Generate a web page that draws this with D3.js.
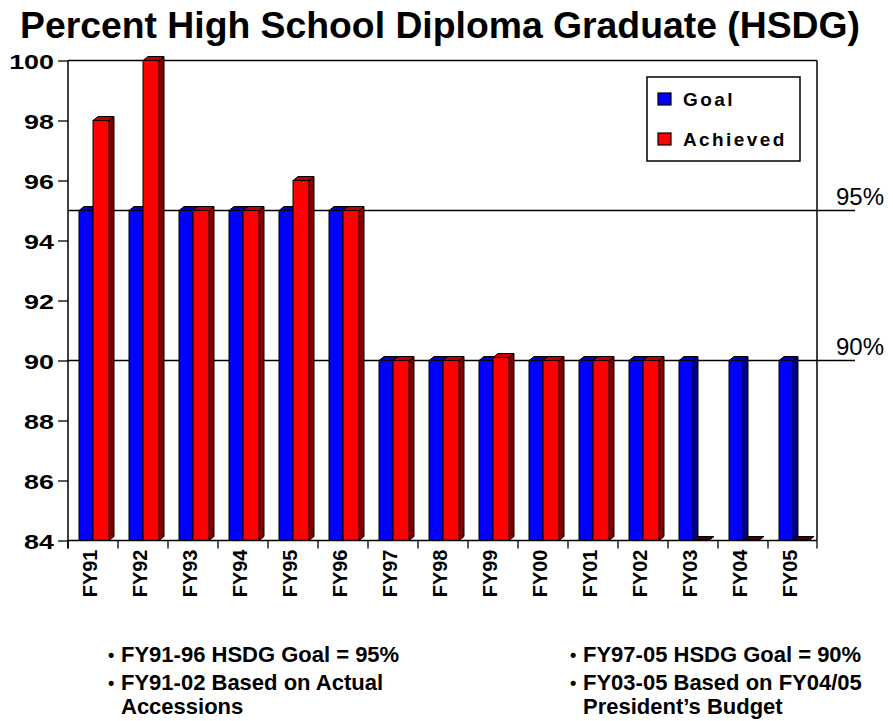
<!DOCTYPE html>
<html>
<head>
<meta charset="utf-8" />
<title>HSDG</title>
<script src="https://cdn.jsdelivr.net/npm/d3@7"></script>
<style>
  body { margin: 0; background: #fff; }
  text { font-family: "Liberation Sans", Arial, sans-serif; }
</style>
</head>
<body>
<svg width="893" height="721"></svg>
<script>
// data
var categories = ["FY91","FY92","FY93","FY94","FY95","FY96","FY97","FY98","FY99","FY00","FY01","FY02","FY03","FY04","FY05"];
var goal     = [95,95,95,95,95,95,90,90,90,90,90,90,90,90,90];
var achieved = [98,100,95,95,96,95,90,90,90.1,90,90,90,null,null,null];
var yTicks = [84,86,88,90,92,94,96,98,100];
var refValues = [95,90];
var refLabels = ["95%","90%"];
var seriesNames = ["Goal","Achieved"];
var notesLeft = ["FY91-96 HSDG Goal = 95%", "FY91-02 Based on Actual", "Accessions"];
var notesRight = ["FY97-05 HSDG Goal = 90%", "FY03-05 Based on FY04/05", "President\u2019s Budget"];

var svg = d3.select("svg");
var pLeft = 68, pRight = 817, pTop = 60.5, pBottom = 540.5;

var x = d3.scaleBand().domain(categories).range([pLeft, pLeft + 750]);
var y = d3.scaleLinear().domain([84,100]).range([pBottom, pTop]);

var colors = {
  Goal:     {front:"#0000ff", top:"#0000c0", side:"#000080"},
  Achieved: {front:"#ff0000", top:"#c00000", side:"#800000"}
};
var dx = 5, dy = 4;

// title
svg.append("text")
  .attr("x", 20).attr("y", 38)
  .attr("font-size", 36).attr("font-weight", "bold")
  .attr("textLength", 840).attr("lengthAdjust", "spacingAndGlyphs")
  .text("Percent High School Diploma Graduate (HSDG)");

// frame top + right
svg.append("line").attr("x1", pLeft).attr("x2", pRight).attr("y1", pTop).attr("y2", pTop)
  .attr("stroke", "#000").attr("stroke-width", 1.5);
svg.append("line").attr("x1", pRight).attr("x2", pRight).attr("y1", pTop).attr("y2", pBottom)
  .attr("stroke", "#000").attr("stroke-width", 1.5);

// reference lines 95 / 90
refValues.forEach(function(v, i){
  svg.append("line").attr("x1", pLeft).attr("x2", 855)
    .attr("y1", y(v)).attr("y2", y(v))
    .attr("stroke", "#000").attr("stroke-width", 1.3);
  svg.append("text").attr("x", 836).attr("y", y(v) - 6)
    .attr("font-size", 24).text(refLabels[i]);
});

// 3d bar helper
function bar3d(g, bx, bw, v, c) {
  var yt = y(Math.max(v == null ? 84 : v, 84)), yb = y(84);
  if (yb - yt > 0) {
    g.append("polygon")
      .attr("points", [[bx+bw,yt],[bx+bw+dx,yt-dy],[bx+bw+dx,yb-dy],[bx+bw,yb]].join(" "))
      .attr("fill", c.side).attr("stroke", "#000").attr("stroke-width", 1);
  }
  g.append("polygon")
    .attr("points", [[bx,yt],[bx+dx,yt-dy],[bx+bw+dx,yt-dy],[bx+bw,yt]].join(" "))
    .attr("fill", v == null ? "#400000" : c.top).attr("stroke", "#000").attr("stroke-width", 1);
  if (yb - yt > 0) {
    g.append("rect").attr("x", bx).attr("y", yt).attr("width", bw).attr("height", yb - yt)
      .attr("fill", c.front).attr("stroke", "#000").attr("stroke-width", 1);
  }
}

var bw = x.bandwidth();
var bars = svg.append("g");
categories.forEach(function(c, i){
  var gb = bars.append("g");
  bar3d(gb, x(c) + bw*0.22, bw*0.28, goal[i], colors.Goal);
  bar3d(gb, x(c) + bw*0.50, bw*0.32, achieved[i], colors.Achieved);
});

// y axis
var yAxis = svg.append("g").attr("transform", "translate(" + pLeft + ",0)")
  .call(d3.axisLeft(y).tickValues(yTicks).tickSize(10).tickSizeOuter(0).tickPadding(0));
yAxis.select(".domain").remove();
yAxis.selectAll(".tick line").attr("stroke-width", 1.3);
yAxis.selectAll(".tick text")
  .attr("x", -14 / 1.28).attr("dy", "0.36em")
  .attr("transform", "scale(1.28,1)")
  .attr("font-size", 21).attr("font-weight", "bold")
  .attr("font-family", "Liberation Sans, Arial, sans-serif").attr("fill", "#000");
svg.append("line").attr("x1", pLeft).attr("x2", pLeft).attr("y1", pTop).attr("y2", pBottom + 8)
  .attr("stroke", "#000").attr("stroke-width", 1.5);

// x axis
svg.append("line").attr("x1", pLeft).attr("x2", pRight).attr("y1", pBottom).attr("y2", pBottom)
  .attr("stroke", "#000").attr("stroke-width", 1.5);
var xb = categories.map(function(c){ return x(c); }).concat([x.range()[1] - 1]);
svg.selectAll(".xtick").data(xb).enter().append("line")
  .attr("x1", function(d){ return d; }).attr("x2", function(d){ return d; })
  .attr("y1", pBottom).attr("y2", pBottom + 8)
  .attr("stroke", "#000").attr("stroke-width", 1.3);
svg.selectAll(".xlab").data(categories).enter().append("text")
  .attr("transform", function(d){ return "translate(" + (x(d) + bw/2 + 4) + "," + (pBottom + 9) + ") rotate(-90)"; })
  .attr("text-anchor", "end")
  .attr("font-size", 20).attr("font-weight", "bold")
  .text(function(d){ return d; });

// legend
var lg = svg.append("g").attr("transform", "translate(647,77)");
lg.append("rect").attr("width", 153).attr("height", 84)
  .attr("fill", "#fff").attr("stroke", "#000").attr("stroke-width", 1.5);
seriesNames.forEach(function(s, i){
  lg.append("rect").attr("x", 11).attr("y", 16 + i*40).attr("width", 13).attr("height", 12)
    .attr("fill", colors[s].front).attr("stroke", "#000").attr("stroke-width", 1.2);
  lg.append("text").attr("x", 36).attr("y", 29 + i*40)
    .attr("font-size", 19).attr("font-weight", "bold").attr("letter-spacing", 2.4)
    .text(s);
});

// notes under the chart
function notes(lines, bx, tx) {
  lines.forEach(function(t, i){
    var yy = [662, 690, 714][i];
    if (i < 2) {
      svg.append("text").attr("x", bx).attr("y", yy - 1).attr("font-size", 18)
        .attr("font-weight", "bold").text("\u2022");
    }
    svg.append("text").attr("x", tx).attr("y", yy)
      .attr("font-size", 22).attr("font-weight", "bold").text(t);
  });
}
notes(notesLeft, 108, 121);
notes(notesRight, 570, 583);
</script>
</body>
</html>
